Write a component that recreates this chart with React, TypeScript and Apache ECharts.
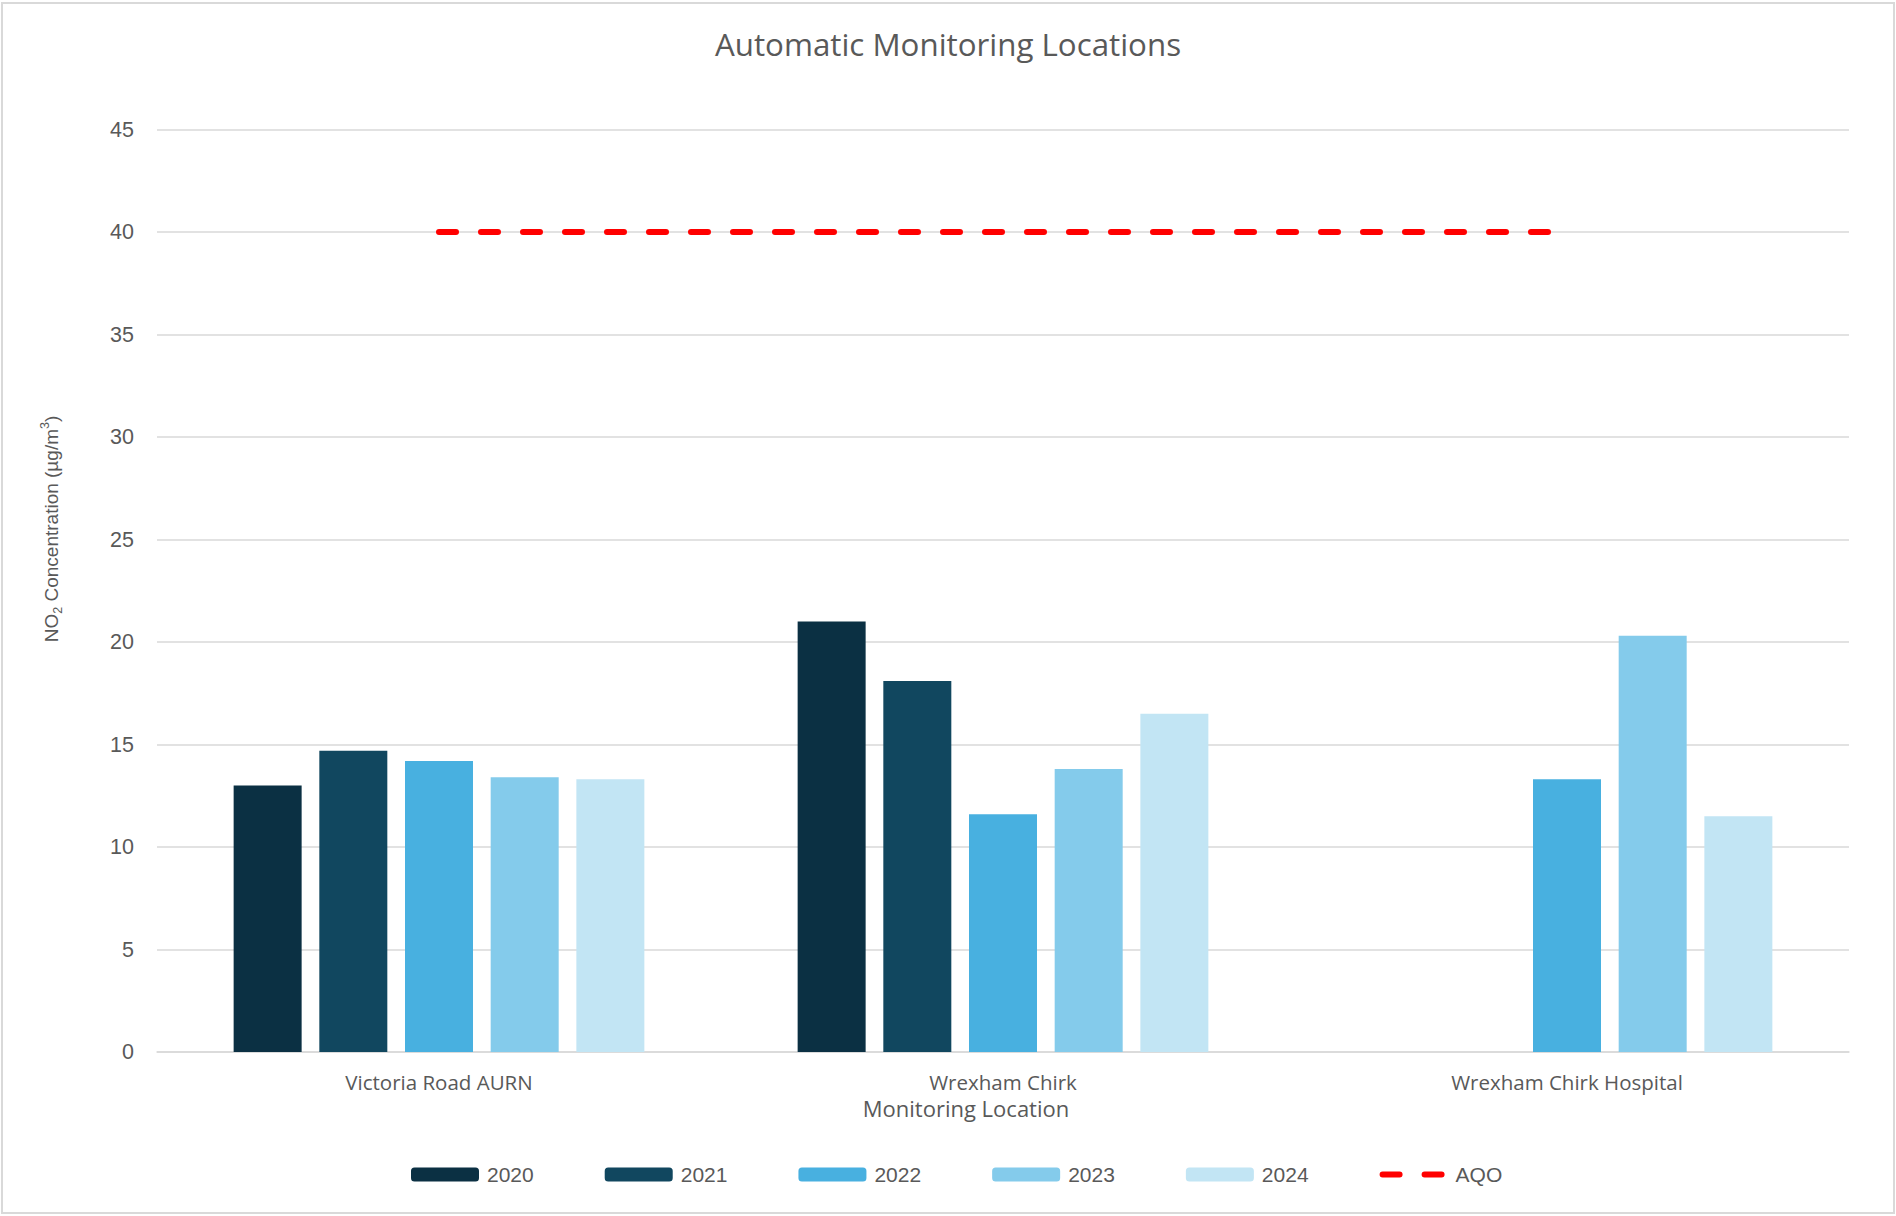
import React, { useEffect, useRef } from "react";
import * as echarts from "echarts";

const categories = ["Victoria Road AURN", "Wrexham Chirk", "Wrexham Chirk Hospital"];
const years = ["2020", "2021", "2022", "2023", "2024"];
const s2020 = [13.0, 21.0, null];
const s2021 = [14.7, 18.1, null];
const s2022 = [14.2, 11.6, 13.3];
const s2023 = [13.4, 13.8, 20.3];
const s2024 = [13.3, 16.5, 11.5];
const aqo = [40, 40, 40];
const yTicks = { min: 0, max: 45, interval: 5 };
const colors = ["#0b3043", "#11475f", "#48b0e0", "#84cbeb", "#c2e5f4"];

const dashIcon =
  "path://M0,0L68,0M0,14L68,14M3,4H20A3,3 0 0 1 20,10H3A3,3 0 0 1 3,4ZM45,4H62A3,3 0 0 1 62,10H45A3,3 0 0 1 45,4Z";

const App: React.FC = () => {
  const ref = useRef<HTMLDivElement>(null);
  useEffect(() => {
    document.body.style.margin = "0";
    if (!ref.current) return;
    const chart = echarts.init(ref.current, null, { renderer: "svg" });
    const seriesValues = [s2020, s2021, s2022, s2023, s2024];
    const labelColor = "#595959";
    const option: any = {
      animation: false,
      backgroundColor: "#ffffff",
      title: {
        text: "Automatic Monitoring Locations",
        left: "center",
        top: 23,
        textStyle: { fontFamily: "Open Sans", fontSize: 31.3, fontWeight: "normal", color: labelColor },
      },
      grid: { left: 157, right: 47, top: 129.5, bottom: 164, containLabel: false },
      legend: {
        top: 1159,
        left: 406,
        itemWidth: 68,
        itemHeight: 14,
        itemGap: 71,
        data: [
          ...years,
          { name: "AQO", icon: dashIcon, itemStyle: { color: "#ff0000", borderWidth: 0 } },
        ],
        textStyle: { fontFamily: "Liberation Sans", fontSize: 21, color: labelColor, padding: [0, 0, 0, 3] },
      },
      xAxis: {
        type: "category",
        data: categories,
        axisTick: { show: false },
        axisLine: { lineStyle: { color: "#d9d9d9", width: 1.5 } },
        axisLabel: { color: labelColor, fontFamily: "Open Sans", fontSize: 20.5, margin: 19 },
      },
      yAxis: {
        type: "value",
        min: yTicks.min,
        max: yTicks.max,
        interval: yTicks.interval,
        axisLine: { show: false },
        axisTick: { show: false },
        splitLine: { lineStyle: { color: "#d9d9d9", width: 1.5 } },
        axisLabel: { color: labelColor, fontFamily: "Liberation Sans", fontSize: 21.5, margin: 23 },
      },
      graphic: [
        {
          type: "rect",
          shape: { x: 2, y: 3, width: 1892, height: 1210 },
          style: { fill: "none", stroke: "#d9d9d9", lineWidth: 2 },
          silent: true,
        },
        {
          type: "text",
          x: 966,
          y: 1108,
          style: {
            text: "Monitoring Location",
            fontFamily: "Open Sans",
            fontSize: 22,
            fill: labelColor,
            align: "center",
            verticalAlign: "middle",
          },
        },
        {
          type: "text",
          x: 51,
          y: 529,
          rotation: Math.PI / 2,
          style: {
            text: "{a|NO}{sub|2}{a| Concentration (µg/m}{sup|3}{a|)}",
            align: "center",
            verticalAlign: "middle",
            rich: {
              a: { fontFamily: "Liberation Sans", fontSize: 19, fill: labelColor, lineHeight: 26, verticalAlign: "middle" },
              sub: { fontFamily: "Liberation Sans", fontSize: 12.5, fill: labelColor, lineHeight: 12, verticalAlign: "bottom" },
              sup: { fontFamily: "Liberation Sans", fontSize: 12.5, fill: labelColor, lineHeight: 12, verticalAlign: "top" },
            },
          },
        },
      ],
      series: [
        ...years.map((y, i) => ({
          name: y,
          type: "bar",
          data: seriesValues[i],
          barWidth: 68,
          barGap: "26%",
          itemStyle: { color: colors[i] },
        })),
        {
          name: "AQO",
          type: "line",
          data: aqo,
          symbol: "none",
          z: 5,
          itemStyle: { color: "#ff0000" },
          lineStyle: { color: "#ff0000", width: 6, type: [17, 25], cap: "round" },
        },
      ],
    };
    chart.setOption(option);
    return () => chart.dispose();
  }, []);
  return <div ref={ref} style={{ width: 1896, height: 1216 }} />;
};

export default App;
